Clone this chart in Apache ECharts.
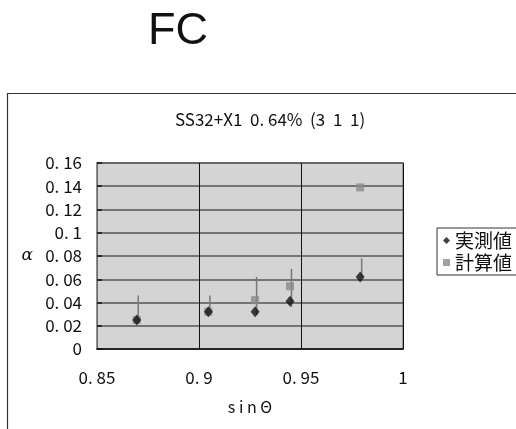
<!DOCTYPE html>
<html>
<head>
<meta charset="utf-8">
<script src="https://cdn.jsdelivr.net/npm/echarts@6/dist/echarts.min.js"></script>
<style>
  html, body { margin: 0; padding: 0; background: #fff; }
  #main { width: 516px; height: 429px; }
</style>
</head>
<body>
<div id="main"></div>
<script>
(function(){

    // data
    var sinTheta   = [0.8695, 0.9046, 0.9275, 0.9446, 0.979];
    var measured   = [0.025, 0.032, 0.032, 0.041, 0.062];   // 実測値
    var calculated = [0.025, 0.032, 0.042, 0.054, 0.139];   // 計算値
    var errLow     = [0.022, 0.032, 0.029, 0.036, 0.062];
    var errHigh    = [0.046, 0.046, 0.062, 0.069, 0.078];
    var seriesNames = ['実測値', '計算値'];

    var jpFont = '"Noto Sans CJK JP", sans-serif';

    var fmt = function(v){
        var s = String(parseFloat(v.toFixed(2)));
        return s.replace('.', '. ');
    };

    var pair = function(xs, ys){
        var out = [];
        for (var i = 0; i < xs.length; i++) out.push([xs[i], ys[i]]);
        return out;
    };
    var errData = [];
    for (var i = 0; i < sinTheta.length; i++) {
        errData.push([sinTheta[i], errLow[i], errHigh[i]]);
    }

    var chart = echarts.init(document.getElementById('main'));
    var option = {
        backgroundColor: '#fff',
        animation: false,
        title: [
            {
                text: 'FC',
                left: 143,
                top: 4,
                textStyle: { fontFamily: '"Liberation Sans", Arial, sans-serif', fontSize: 45, fontWeight: 'normal', color: '#111' }
            },
            {
                text: 'SS32+X1  0. 64%  (3  1  1)',
                left: 265,
                textAlign: 'center',
                top: 106,
                textStyle: { fontFamily: jpFont, fontSize: 17, fontWeight: 'normal', color: '#111' }
            }
        ],
        graphic: [
            {
                type: 'rect',
                shape: { x: 7.5, y: 93.5, width: 600, height: 400 },
                style: { fill: 'none', stroke: '#333', lineWidth: 1.2 },
                silent: true,
                z: -1
            }
        ],
        legend: {
            orient: 'vertical',
            left: 437,
            top: 228,
            data: seriesNames,
            itemWidth: 7,
            itemHeight: 7,
            itemGap: 3,
            padding: [3, 14, 3, 6],
            borderColor: '#333',
            borderWidth: 1,
            backgroundColor: '#fff',
            textStyle: { fontFamily: jpFont, fontSize: 19, color: '#111' }
        },
        grid: {
            left: 97,
            right: 113,
            top: 163,
            bottom: 80,
            show: true,
            backgroundColor: '#d4d4d4',
            borderColor: '#888',
            borderWidth: 1.5
        },
        xAxis: {
            type: 'value',
            min: 0.85,
            max: 1,
            interval: 0.05,
            name: 's i n Θ',
            nameLocation: 'middle',
            nameGap: 50,
            nameTextStyle: { fontFamily: jpFont, fontSize: 16, color: '#111' },
            axisLine: { show: true, lineStyle: { color: '#111', width: 1.5 } },
            axisTick: { show: false },
            axisLabel: { margin: 20, fontFamily: jpFont, fontSize: 17, color: '#111', formatter: fmt },
            splitLine: { show: true, lineStyle: { color: '#111', width: 1 } }
        },
        yAxis: {
            type: 'value',
            min: 0,
            max: 0.16,
            interval: 0.02,
            name: 'α',
            nameLocation: 'middle',
            nameRotate: 0,
            nameGap: 64,
            nameTextStyle: { fontFamily: '"DejaVu Serif", serif', fontStyle: 'italic', fontSize: 17, color: '#111' },
            axisLine: { show: true, lineStyle: { color: '#888', width: 1.5 } },
            axisTick: { show: true, inside: true, length: 5, lineStyle: { color: '#111', width: 1.5 } },
            axisLabel: { margin: 15, fontFamily: jpFont, fontSize: 17, color: '#111', formatter: fmt },
            splitLine: { show: true, lineStyle: { color: '#555', width: 1.5 } }
        },
        series: [
            {
                name: 'err',
                type: 'custom',
                silent: true,
                z: 1,
                data: errData,
                renderItem: function(params, api){
                    var lo = api.coord([api.value(0), api.value(1)]);
                    var hi = api.coord([api.value(0), api.value(2)]);
                    return {
                        type: 'line',
                        shape: { x1: lo[0] + 1.5, y1: lo[1], x2: hi[0] + 1.5, y2: hi[1] },
                        style: { stroke: '#777', lineWidth: 1.5 }
                    };
                }
            },
            {
                name: '計算値',
                type: 'scatter',
                symbol: 'rect',
                symbolSize: 8,
                z: 2,
                itemStyle: { color: '#8a8a8a' },
                data: pair(sinTheta, calculated)
            },
            {
                name: '実測値',
                type: 'scatter',
                symbol: 'diamond',
                symbolSize: [9, 11],
                z: 3,
                itemStyle: { color: '#111' },
                data: pair(sinTheta, measured)
            }
        ]
    };
    chart.setOption(option);

})();
</script>
</body>
</html>
